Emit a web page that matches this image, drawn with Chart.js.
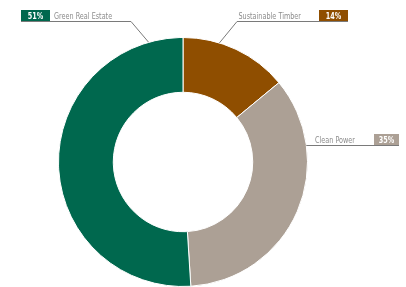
<!DOCTYPE html>
<html>
<head>
<meta charset="utf-8">
<script src="https://cdn.jsdelivr.net/npm/chart.js@4.4.0/dist/chart.umd.min.js"></script>
<style>
  html, body { margin: 0; padding: 0; background: #fff; }
  #wrap { width: 406px; height: 287px; position: relative; }
</style>
</head>
<body>
<div id="wrap"><canvas id="chart"></canvas></div>
<script>
// ============ Data ============

const categories = ['Sustainable Timber', 'Clean Power', 'Green Real Estate'];
const shares = [14, 35, 51];
const sliceColors = ['#8f4e00', '#aca095', '#00684e'];

// label placement (layout only): angle of leader anchor on the ring (deg from top, clockwise),
// box position and which side the box sits
const labelLayout = [
    { angle: 17, boxX: 319, boxY: 10, boxW: 29, side: 'right', lineFrom: 237 },
    { angle: 82, boxX: 374, boxY: 134, boxW: 25, side: 'right', lineFrom: null },
    { angle: -16, boxX: 21, boxY: 10, boxW: 29, side: 'left', lineFrom: 131 }
];

const FONT = "'DejaVu Sans Condensed', 'Liberation Sans Narrow', sans-serif";
const SQUEEZE = 0.8; // fake a condensed face

// draw text squeezed horizontally, anchored per align
function squeezedText(ctx, text, x, y, align) {
    const w = ctx.measureText(text).width * SQUEEZE;
    let left = x;
    if (align === 'center') left = x - w / 2;
    if (align === 'right') left = x - w;
    ctx.save();
    ctx.translate(left, y);
    ctx.scale(SQUEEZE, 1);
    ctx.textAlign = 'left';
    ctx.fillText(text, 0, 0);
    ctx.restore();
}

// ============ Label plugin ============

const calloutPlugin = {
    id: 'callouts',
    afterDraw(chart) {
        const ctx = chart.ctx;
        const arcs = chart.getDatasetMeta(0).data;
        if (!arcs.length) return;
        const cx = arcs[0].x, cy = arcs[0].y, r = arcs[0].outerRadius;

        categories.forEach((name, i) => {
            const lay = labelLayout[i];
            const a = lay.angle * Math.PI / 180;
            const ax = cx + r * Math.sin(a);
            const ay = cy - r * Math.cos(a);
            const boxH = 11;
            const lineY = lay.boxY + boxH + 0.5;

            ctx.save();
            // leader
            ctx.strokeStyle = '#7a7a7a';
            ctx.lineWidth = 1;
            ctx.beginPath();
            if (lay.side === 'left') {
                ctx.moveTo(lay.boxX, lineY);
                ctx.lineTo(lay.lineFrom, lineY);
                ctx.lineTo(ax, ay);
            } else if (lay.lineFrom !== null) {
                ctx.moveTo(lay.boxX + lay.boxW, lineY);
                ctx.lineTo(lay.lineFrom, lineY);
                ctx.lineTo(ax, ay);
            } else {
                ctx.moveTo(lay.boxX + lay.boxW, lineY);
                ctx.lineTo(ax, lineY);
            }
            ctx.stroke();

            // box
            ctx.fillStyle = sliceColors[i];
            ctx.fillRect(lay.boxX, lay.boxY, lay.boxW, boxH);
            ctx.fillStyle = '#ffffff';
            ctx.font = 'bold 9px ' + FONT;
            ctx.textBaseline = 'alphabetic';
            squeezedText(ctx, shares[i] + '%', lay.boxX + lay.boxW / 2, lay.boxY + boxH - 2, 'center');

            // name
            ctx.fillStyle = '#8c8c8c';
            ctx.font = '9px ' + FONT;
            if (lay.side === 'left') {
                squeezedText(ctx, name, lay.boxX + lay.boxW + 4, lay.boxY + boxH - 2, 'left');
            } else {
                squeezedText(ctx, name, lay.boxX - (lay.lineFrom !== null ? 18 : 19), lay.boxY + boxH - 2, 'right');
            }
            ctx.restore();
        });
    }
};

// ============ Chart ============

new Chart(document.getElementById('chart'), {
    type: 'doughnut',
    data: {
        labels: categories,
        datasets: [{
            data: shares,
            backgroundColor: sliceColors,
            borderColor: '#ffffff',
            borderWidth: 1
        }]
    },
    options: {
        responsive: true,
        maintainAspectRatio: false,
        animation: false,
        cutout: '56%',
        layout: { padding: { top: 37, bottom: 0, left: 58, right: 98 } },
        plugins: {
            legend: { display: false },
            tooltip: { enabled: false }
        }
    },
    plugins: [calloutPlugin]
});
</script>
</body>
</html>
